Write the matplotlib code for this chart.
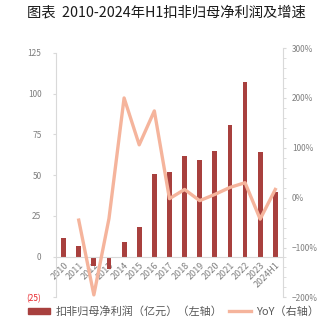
import numpy as np
import matplotlib
matplotlib.use('Agg')
import matplotlib.pyplot as plt
from matplotlib.ticker import FixedLocator, MultipleLocator, FuncFormatter
from matplotlib.patches import Patch
from matplotlib.lines import Line2D

plt.rcParams['font.family'] = ['Noto Sans CJK SC', 'DejaVu Sans']
plt.rcParams['axes.unicode_minus'] = True

# data
years = ['2010', '2011', '2012', '2013', '2014', '2015', '2016', '2017',
         '2018', '2019', '2020', '2021', '2022', '2023', '2024H1']
profit = [11.5, 6.5, -5.5, -7.5, 9.0, 18.4, 51.0, 51.7, 61.5, 59.6, 65.0, 80.5, 107.4, 64.3, 39.4]
yoy = [np.nan, -45, -195, -42, 200, 106, 174, -2, 16.5, -6, 6.5, 20.5, 30, -43, 16.5]

bar_color = '#A8403E'
line_color = '#F5B49C'
axis_gray = '#D9D9D9'
label_gray = '#7F7F7F'

fig = plt.figure(figsize=(3.24, 3.25), dpi=100)
ax = fig.add_axes([0.173, 0.085, 0.700, 0.767])
x = np.arange(len(years))

ax.bar(x, profit, width=0.32, color=bar_color, zorder=2)
ax.set_xlim(-0.5, len(years) - 0.5)
ax.set_ylim(-25, 128)
ax.yaxis.set_major_locator(FixedLocator([-25, 0, 25, 50, 75, 100, 125]))
ax.yaxis.set_major_formatter(FuncFormatter(lambda v, p: '(%d)' % abs(v) if v < 0 else '%d' % v))
ax.tick_params(axis='y', labelsize=6, colors=label_gray, length=2.5, color=axis_gray, pad=8)
for t in ax.get_yticklabels():
    if t.get_text().startswith('('):
        t.set_color('#E8262B')

ax.spines['top'].set_visible(False)
ax.spines['right'].set_visible(False)
ax.spines['left'].set_color(axis_gray)
ax.spines['left'].set_bounds(-25, 125)
ax.spines['bottom'].set_position(('data', 0))
ax.spines['bottom'].set_color(axis_gray)
ax.set_xticks(x)
ax.set_xticklabels(years, rotation=45, ha='right', rotation_mode='anchor')
ax.tick_params(axis='x', labelsize=6.5, colors=label_gray, length=0, pad=3)

ax2 = ax.twinx()
ax2.plot(x, yoy, color=line_color, lw=2.4, zorder=3)
ax2.set_ylim(-200, 300)
ax2.yaxis.set_major_locator(MultipleLocator(100))
ax2.yaxis.set_minor_locator(MultipleLocator(20))
ax2.yaxis.set_major_formatter(FuncFormatter(lambda v, p: ('\u2212%d%%' % abs(v)) if v < 0 else '%d%%' % v))
ax2.tick_params(axis='y', which='both', labelsize=6, colors=label_gray, length=2.5, color=axis_gray, pad=4)
for s in ['top', 'left', 'bottom']:
    ax2.spines[s].set_visible(False)
ax2.spines['right'].set_color(axis_gray)

fig.text(0.513, 0.962, '图表  2010-2024年H1扣非归母净利润及增速', ha='center', va='center',
         fontsize=10.3, color='#1a1a1a')

handles = [Patch(color=bar_color), Line2D([0], [0], color=line_color, lw=2.4)]
labels = ['扣非归母净利润（亿元）（左轴）', 'YoY（右轴）']
fig.legend(handles, labels, loc='center left', bbox_to_anchor=(28 / 324, 0.042), ncol=2, frameon=False,
           fontsize=8, labelcolor='#595959', handlelength=2.0, handleheight=0.5,
           columnspacing=0.6, handletextpad=0.45, borderpad=0, borderaxespad=0)

fig.savefig('out.png', dpi=100)
